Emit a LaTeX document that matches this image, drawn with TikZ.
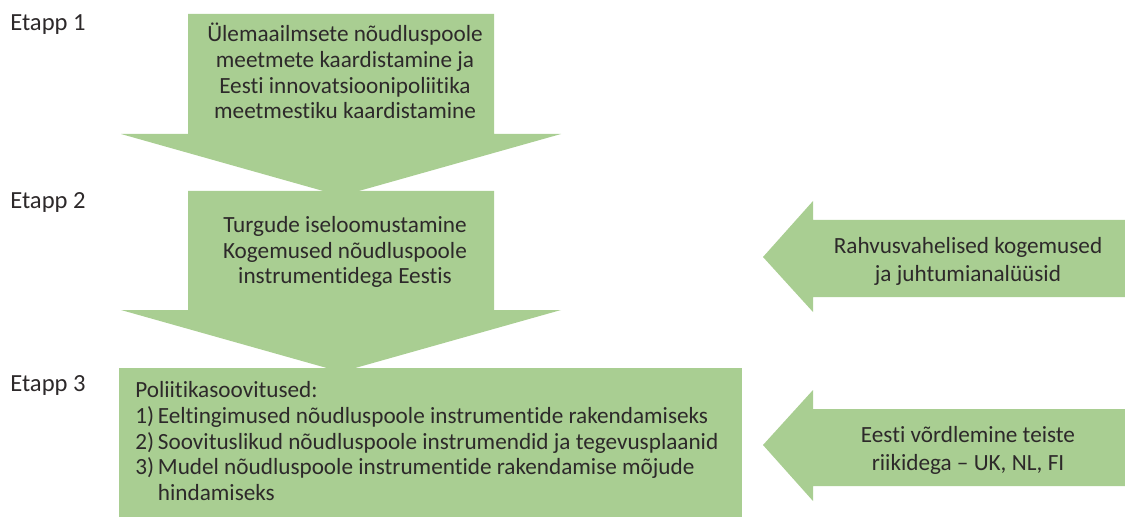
\documentclass[tikz,border=0pt]{standalone}
\usepackage{fontspec}
\setmainfont{Carlito}[Ligatures=NoCommon]
\usepackage{tikz}
\definecolor{stagegreen}{RGB}{169,206,146}
\definecolor{stagetext}{RGB}{45,41,42}

\begin{document}
\begin{tikzpicture}[x=0.025cm,y=-0.025cm,
  every node/.style={text=stagetext,font=\fontsize{16.5}{18.3}\selectfont},
  stagefill/.style={fill=stagegreen,draw=none}]
\useasboundingbox (0,0) rectangle (1125,518);
% stage arrows
\fill[stagegreen] (188,14) -- (494,14) -- (494,134) -- (561,134) -- (341,196) -- (121,134) -- (188,134) -- cycle;
\fill[stagegreen] (188,191) -- (494,191) -- (494,310) -- (561,310) -- (341,372) -- (121,310) -- (188,310) -- cycle;
\path[stagefill] (119,368) rectangle (742,517);
% input arrows
\fill[stagegreen] (1125,220) -- (813,220) -- (813,201) -- (763,257) -- (813,312) -- (813,297) -- (1125,297) -- cycle;
\fill[stagegreen] (1125,409) -- (813,409) -- (813,390) -- (763,445) -- (813,501) -- (813,486) -- (1125,486) -- cycle;
\path (10,31) node[anchor=base west,inner sep=0pt,font=\fontsize{17.5}{20}\selectfont] (etapp1) {Etapp 1};
\path (10,209) node[anchor=base west,inner sep=0pt,font=\fontsize{17.5}{20}\selectfont] (etapp2) {Etapp 2};
\path (10,391) node[anchor=base west,inner sep=0pt,font=\fontsize{17.5}{20}\selectfont] (etapp3) {Etapp 3};
\path (345,71) node[align=center] (kaart) {Ülemaailmsete nõudluspoole\\meetmete kaardistamine ja\\Eesti innovatsioonipoliitika\\meetmestiku kaardistamine};
\path (345,252) node[align=center] (turg) {Turgude iseloomustamine\\Kogemused nõudluspoole\\instrumentidega Eestis};
\path (968,261) node[align=center,font=\fontsize{16.5}{20}\selectfont] (rahv) {Rahvusvahelised kogemused\\ja juhtumianalüüsid};
\path (968,450) node[align=center,font=\fontsize{16.5}{20}\selectfont] (vord) {Eesti võrdlemine teiste\\riikidega – UK, NL, FI};
\path (135,444) node[anchor=west,inner sep=0pt] (soov) {\begin{tabular}{@{}l@{\,}l@{}}
\multicolumn{2}{@{}l@{}}{Poliitikasoovitused:}\\
1) & Eeltingimused nõudluspoole instrumentide rakendamiseks\\
2) & Soovituslikud nõudluspoole instrumendid ja tegevusplaanid\\
3) & Mudel nõudluspoole instrumentide rakendamise mõjude\\
   & hindamiseks
\end{tabular}};

\end{tikzpicture}
\end{document}
